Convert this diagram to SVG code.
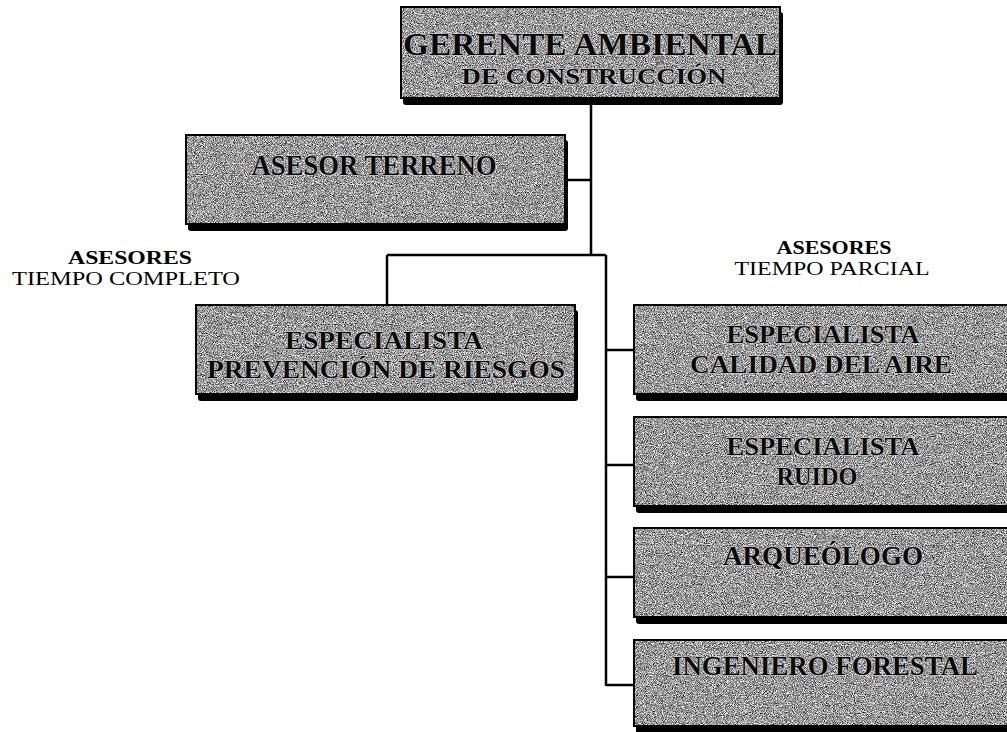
<svg xmlns="http://www.w3.org/2000/svg" width="1007" height="732" viewBox="0 0 1007 732">
<style>
.shadow{fill:#000}
.box{fill:#999;filter:url(#grain)}
.frame{fill:none;stroke:#000;stroke-width:2}
.t{font-family:"Liberation Serif","Times New Roman",serif;font-weight:bold;fill:#0a0a0a;stroke:#d4d4d4;stroke-width:1.2;paint-order:stroke;text-anchor:middle}
.lbl{font-family:"Liberation Serif","Times New Roman",serif;font-size:18px;fill:#000;text-anchor:middle}
.conn{fill:none;stroke:#000;stroke-width:2.5}
</style>
<defs>
<filter id="grain" x="0" y="0" width="100%" height="100%" color-interpolation-filters="sRGB">
<feTurbulence type="fractalNoise" baseFrequency="1.1" numOctaves="2" seed="7" result="n"/>
<feColorMatrix in="n" type="matrix" values="1.7 0 0 0 -0.25  1.7 0 0 0 -0.25  1.7 0 0 0 -0.25  0 0 0 0 1" result="g"/>
<feComposite in="g" in2="SourceGraphic" operator="in"/>
</filter>
</defs>
<rect width="1007" height="732" fill="#fff"/>

<g id="connectors">
<path class="conn" d="M591,104 V255"/>
<path class="conn" d="M567,180 H591"/>
<path class="conn" d="M387,255 H606"/>
<path class="conn" d="M387,255 V306"/>
<path class="conn" d="M606,255 V686"/>
<path class="conn" d="M606,350 H634"/>
<path class="conn" d="M606,465 H634"/>
<path class="conn" d="M606,577 H634"/>
<path class="conn" d="M606,685 H634"/>
</g>

<g id="gerente">
<rect class="shadow" x="403" y="12" width="380" height="93" rx="3"/>
<rect class="box" x="401" y="7" width="379" height="91"/>
<rect class="frame" x="401" y="7" width="379" height="91"/>
<text class="t" x="590" y="55" font-size="31" textLength="374" lengthAdjust="spacingAndGlyphs">GERENTE AMBIENTAL</text>
<text class="t" x="594" y="84" font-size="24" textLength="265" lengthAdjust="spacingAndGlyphs">DE CONSTRUCCIÓN</text>
</g>

<g id="asesor-terreno">
<rect class="shadow" x="188" y="140" width="380" height="91" rx="3"/>
<rect class="box" x="186" y="135" width="379" height="89"/>
<rect class="frame" x="186" y="135" width="379" height="89"/>
<text class="t" x="374" y="175" font-size="30" textLength="245" lengthAdjust="spacingAndGlyphs">ASESOR TERRENO</text>
</g>

<g id="label-completo">
<text class="lbl" x="130" y="264" font-weight="bold" textLength="124" lengthAdjust="spacingAndGlyphs">ASESORES</text>
<text class="lbl" x="126" y="285" textLength="228" lengthAdjust="spacingAndGlyphs">TIEMPO COMPLETO</text>
</g>

<g id="label-parcial">
<text class="lbl" x="834" y="254" font-weight="bold" textLength="115" lengthAdjust="spacingAndGlyphs">ASESORES</text>
<text class="lbl" x="832" y="275" textLength="195" lengthAdjust="spacingAndGlyphs">TIEMPO PARCIAL</text>
</g>

<g id="prevencion">
<rect class="shadow" x="198" y="310" width="380" height="91" rx="3"/>
<rect class="box" x="196" y="305" width="379" height="89"/>
<rect class="frame" x="196" y="305" width="379" height="89"/>
<text class="t" x="384" y="349" font-size="25" textLength="198" lengthAdjust="spacingAndGlyphs">ESPECIALISTA</text>
<text class="t" x="386" y="378" font-size="25" textLength="358" lengthAdjust="spacingAndGlyphs">PREVENCIÓN DE RIESGOS</text>
</g>

<g id="calidad-aire">
<rect class="shadow" x="636" y="310" width="380" height="91" rx="3"/>
<rect class="box" x="634" y="305" width="379" height="89"/>
<rect class="frame" x="634" y="305" width="379" height="89"/>
<text class="t" x="823" y="343" font-size="26" textLength="193" lengthAdjust="spacingAndGlyphs">ESPECIALISTA</text>
<text class="t" x="821" y="373" font-size="26" textLength="262" lengthAdjust="spacingAndGlyphs">CALIDAD DEL AIRE</text>
</g>

<g id="ruido">
<rect class="shadow" x="636" y="422" width="380" height="91" rx="3"/>
<rect class="box" x="634" y="417" width="379" height="89"/>
<rect class="frame" x="634" y="417" width="379" height="89"/>
<text class="t" x="823" y="455" font-size="26" textLength="193" lengthAdjust="spacingAndGlyphs">ESPECIALISTA</text>
<text class="t" x="817" y="485" font-size="26" textLength="81" lengthAdjust="spacingAndGlyphs">RUIDO</text>
</g>

<g id="arqueologo">
<rect class="shadow" x="636" y="533" width="380" height="91" rx="3"/>
<rect class="box" x="634" y="528" width="379" height="89"/>
<rect class="frame" x="634" y="528" width="379" height="89"/>
<text class="t" x="823" y="565" font-size="28" textLength="200" lengthAdjust="spacingAndGlyphs">ARQUEÓLOGO</text>
</g>

<g id="forestal">
<rect class="shadow" x="636" y="645" width="380" height="87"/>
<rect class="box" x="634" y="640" width="379" height="86"/>
<rect class="frame" x="634" y="640" width="379" height="86"/>
<text class="t" x="825" y="675" font-size="28" textLength="306" lengthAdjust="spacingAndGlyphs">INGENIERO FORESTAL</text>
</g>
</svg>
